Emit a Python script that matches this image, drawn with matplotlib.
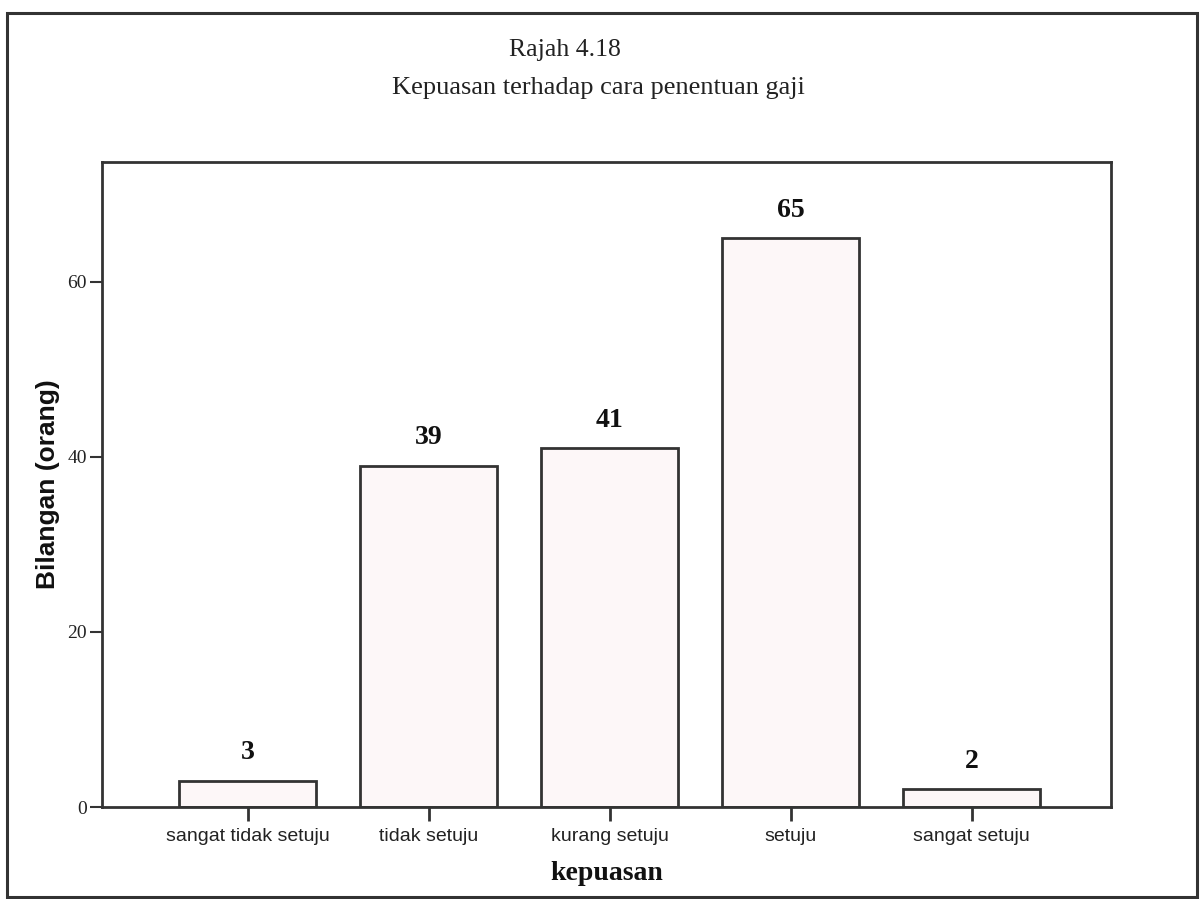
import matplotlib
matplotlib.use("Agg")
import matplotlib.pyplot as plt
from matplotlib.patches import Rectangle

categories = ["sangat tidak setuju", "tidak setuju", "kurang setuju", "setuju", "sangat setuju"]
counts = [3, 39, 41, 65, 2]
yticks = [0, 20, 40, 60]
title_line1 = "Rajah 4.18"
title_line2 = "Kepuasan terhadap cara penentuan gaji"
xlabel = "kepuasan"
ylabel = "Bilangan (orang)"

W, H, DPI = 1203, 899, 100
fig = plt.figure(figsize=(W / DPI, H / DPI), dpi=DPI)
fig.patch.set_facecolor("white")

# outer frame
fig.add_artist(Rectangle((7 / W, 2 / H), (1197 - 7) / W, (886 - 2) / H,
                         transform=fig.transFigure, fill=False,
                         edgecolor="#333333", linewidth=2.2))

ax = fig.add_axes([102 / W, (H - 807) / H, (1111 - 102) / W, (807 - 162) / H])
x = list(range(len(categories)))
ax.bar(x, counts, width=0.76, color="#fdf7f8", edgecolor="#333333", linewidth=2.0)
ax.set_xlim(-0.804, 4.77)
ax.set_ylim(0, 73.7)

serif = ["Liberation Serif", "DejaVu Serif"]
sans = ["Liberation Sans", "DejaVu Sans"]

for xi, v in zip(x, counts):
    ax.annotate(str(v), (xi, v), xytext=(0, 11), textcoords="offset points",
                ha="center", va="bottom", fontsize=20, fontweight="bold",
                family=serif, color="#111111")

ax.set_xticks(x)
ax.set_xticklabels(categories, family=sans, fontsize=14, color="#222222")
ax.set_yticks(yticks)
ax.set_yticklabels([str(t) for t in yticks], family=serif, fontsize=14, color="#222222")
ax.tick_params(axis="x", direction="out", length=10, width=2, color="#333333", pad=5)
ax.tick_params(axis="y", direction="out", length=9, width=1.5, color="#333333", pad=2)
for s in ax.spines.values():
    s.set_linewidth(2.0)
    s.set_color("#333333")

ax.set_xlabel(xlabel, family=serif, fontsize=20, fontweight="bold", labelpad=12, color="#111111")
ax.set_ylabel(ylabel, family=sans, fontsize=19, fontweight="bold", labelpad=5, color="#111111")

fig.text(565 / W, 1 - 50 / H, title_line1, ha="center", va="center",
         family=serif, fontsize=18.5, color="#222222")
fig.text(598 / W, 1 - 88 / H, title_line2, ha="center", va="center",
         family=serif, fontsize=19, color="#222222")

fig.savefig("out.png", dpi=DPI, facecolor="white")
